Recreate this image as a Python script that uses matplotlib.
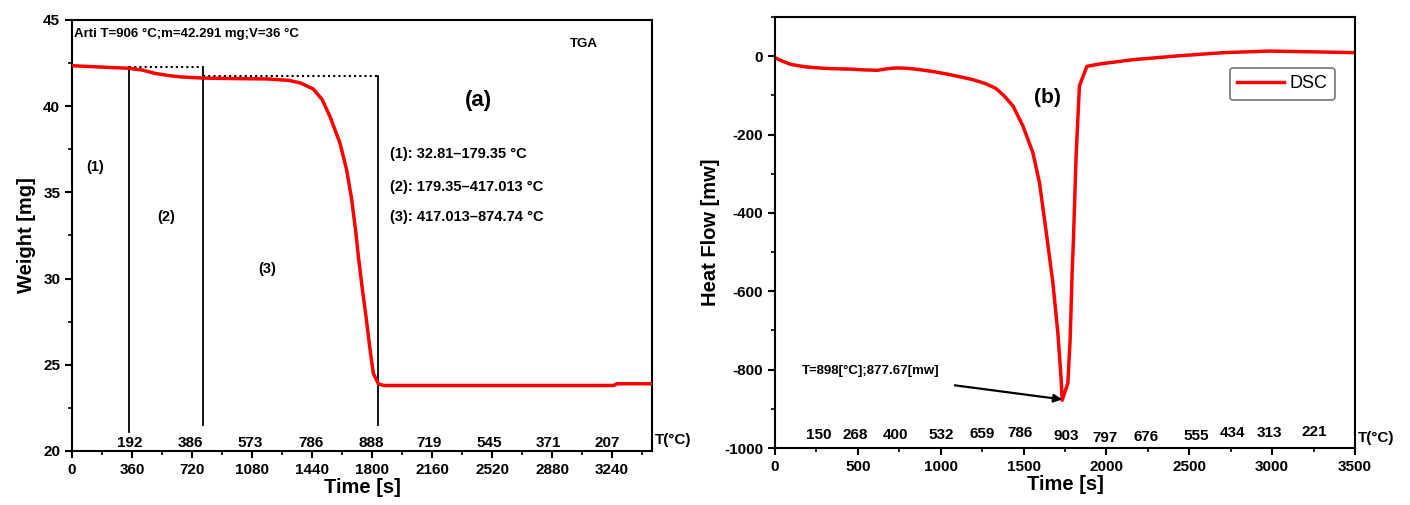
import matplotlib.pyplot as plt
from matplotlib.ticker import MultipleLocator

plt.rcParams['font.family'] = ['Liberation Sans', 'DejaVu Sans']
plt.rcParams['font.weight'] = 'bold'
plt.rcParams['axes.unicode_minus'] = False

# ---- TGA data (a) ----
tga_time = [0, 150, 340, 420, 500, 580, 650, 787, 1000, 1174, 1300, 1370, 1447,
            1500, 1548, 1608, 1648, 1678, 1704, 1718, 1738, 1764, 1788, 1808,
            1838, 1870, 2500, 3250, 3270, 3480]
tga_weight = [42.35, 42.28, 42.2, 42.1, 41.9, 41.78, 41.7, 41.63, 41.6, 41.58,
              41.5, 41.35, 41.0, 40.4, 39.4, 37.85, 36.3, 34.6, 32.6, 31.3,
              29.7, 27.8, 25.9, 24.5, 23.9, 23.8, 23.8, 23.8, 23.9, 23.9]

stage_bounds = [342, 787, 1836]          # vertical lines (s)
stage_tops = [42.25, 42.25, 41.75]
stage_bottoms = [21.1, 21.5, 21.5]

tga_temp_labels = ['192', '386', '573', '786', '888', '719', '545', '371', '207']
tga_temp_pos = [347, 713, 1068, 1434, 1797, 2143, 2501, 2856, 3210]

# ---- DSC data (b) ----
dsc_time = [0, 40, 96, 180, 261, 350, 453, 540, 618, 680, 728, 800, 865, 950,
            1030, 1110, 1195, 1270, 1332, 1380, 1436, 1496, 1556, 1596, 1637,
            1677, 1707, 1727, 1733, 1767, 1781, 1793, 1801, 1817, 1837, 1882,
            1958, 2159, 2440, 2706, 2981, 3255, 3500]
dsc_flow = [-4, -12, -21, -27, -30, -32, -33, -35, -36, -32, -30, -31, -34, -39,
            -45, -52, -60, -70, -82, -100, -127, -178, -246, -323, -450,
            -579, -707, -826, -878, -835, -724, -553, -468, -255, -76, -26,
            -20, -9, 1, 9, 13, 11, 9]

dsc_temp_labels = ['150', '268', '400', '532', '659', '786', '903', '797',
                   '676', '555', '434', '313', '221']
dsc_temp_pos = [261, 481, 728, 1003, 1250, 1478, 1758, 1990, 2239, 2541, 2761,
                2981, 3255]
dsc_temp_y = [-966, -966, -966, -966, -964, -962, -970, -975, -972, -970, -962,
              -962, -958]

fig = plt.figure(figsize=(14.1, 5.05), dpi=100, facecolor='white')
ax1 = fig.add_axes([72 / 1410, 1 - 451 / 505, 580 / 1410, 431 / 505])
ax2 = fig.add_axes([775 / 1410, 1 - 448 / 505, 580 / 1410, 431 / 505])

for ax in (ax1, ax2):
    for s in ax.spines.values():
        s.set_linewidth(1.5)
    ax.tick_params(which='major', direction='out', length=5, width=1.5,
                   labelsize=11, top=False, right=False)
    ax.tick_params(which='minor', direction='out', length=3, width=1.2,
                   top=False, right=False)

# ---------- (a) TGA ----------
ax1.plot(tga_time, tga_weight, color='red', lw=2.5, zorder=3)
for x, top, bot in zip(stage_bounds, stage_tops, stage_bottoms):
    ax1.plot([x, x], [bot, top], color='black', lw=1.3, zorder=2)
ax1.plot([stage_bounds[0], stage_bounds[1]], [42.25, 42.25], color='black',
         lw=1.5, ls=(0, (1, 1.5)))
ax1.plot([stage_bounds[1], stage_bounds[2]], [41.75, 41.75], color='black',
         lw=1.5, ls=(0, (1, 1.5)))

ax1.set_xlim(0, 3480)
ax1.set_ylim(20, 45)
ax1.xaxis.set_major_locator(MultipleLocator(360))
ax1.xaxis.set_minor_locator(MultipleLocator(180))
ax1.yaxis.set_major_locator(MultipleLocator(5))
ax1.yaxis.set_minor_locator(MultipleLocator(2.5))
ax1.set_xlabel('Time [s]', fontsize=14.5, fontweight='bold', labelpad=1)
ax1.set_ylabel('Weight [mg]', fontsize=14.5, fontweight='bold', labelpad=5)

for lab, x in zip(tga_temp_labels, tga_temp_pos):
    ax1.text(x, 20.45, lab, ha='center', va='center', fontsize=11)
ax1.text(3497, 20.65, 'T(°C)', ha='left', va='center', fontsize=11,
         clip_on=False)

ax1.text(13, 44.17, 'Arti T=906 °C;m=42.291 mg;V=36 °C', ha='left',
         va='center', fontsize=9.5)
ax1.text(3070, 43.62, 'TGA', ha='center', va='center', fontsize=9.5)
ax1.text(2440, 40.35, '(a)', ha='center', va='center', fontsize=16)
ax1.text(1908, 37.2, '(1): 32.81–179.35 °C', ha='left', va='center', fontsize=10.5)
ax1.text(1908, 35.3, '(2): 179.35–417.013 °C', ha='left', va='center', fontsize=10.5)
ax1.text(1908, 33.55, '(3): 417.013–874.74 °C', ha='left', va='center', fontsize=10.5)
ax1.text(139, 36.45, '(1)', ha='center', va='center', fontsize=10.5)
ax1.text(566, 33.6, '(2)', ha='center', va='center', fontsize=10.5)
ax1.text(1169, 30.58, '(3)', ha='center', va='center', fontsize=10.5)

# ---------- (b) DSC ----------
ax2.plot(dsc_time, dsc_flow, color='red', lw=2.5, label='DSC')
ax2.set_xlim(0, 3500)
ax2.set_ylim(-1000, 100)
ax2.xaxis.set_major_locator(MultipleLocator(500))
ax2.xaxis.set_minor_locator(MultipleLocator(250))
ax2.yaxis.set_major_locator(MultipleLocator(200))
ax2.yaxis.set_minor_locator(MultipleLocator(100))
ax2.set_xlabel('Time [s]', fontsize=14.5, fontweight='bold', labelpad=1)
ax2.set_ylabel('Heat Flow [mw]', fontsize=14.5, fontweight='bold', labelpad=3)

for lab, x, y in zip(dsc_temp_labels, dsc_temp_pos, dsc_temp_y):
    ax2.text(x, y, lab, ha='center', va='center', fontsize=11)
ax2.text(3520, -974, 'T(°C)', ha='left', va='center', fontsize=11,
         clip_on=False)

ax2.text(1646, -106, '(b)', ha='center', va='center', fontsize=15)
ax2.text(165, -804, 'T=898[°C];877.67[mw]', ha='left', va='center',
         fontsize=9.5)
ax2.annotate('', xy=(1733, -876), xytext=(1085, -840),
             arrowprops=dict(arrowstyle='-|>', color='black', lw=1.6,
                             shrinkA=0, shrinkB=0, mutation_scale=12))

leg = ax2.legend(loc='upper right', bbox_to_anchor=(0.962, 0.877),
                 fancybox=True, fontsize=13, handlelength=2.6,
                 handletextpad=0.3, borderpad=0.3, borderaxespad=0,
                 edgecolor='gray', framealpha=1)
leg.get_frame().set_linewidth(1.3)
leg.get_frame().set_boxstyle('round', pad=0.1, rounding_size=0.15)
for t in leg.get_texts():
    t.set_fontweight('normal')

fig.savefig('out.png', dpi=100, facecolor='white')
